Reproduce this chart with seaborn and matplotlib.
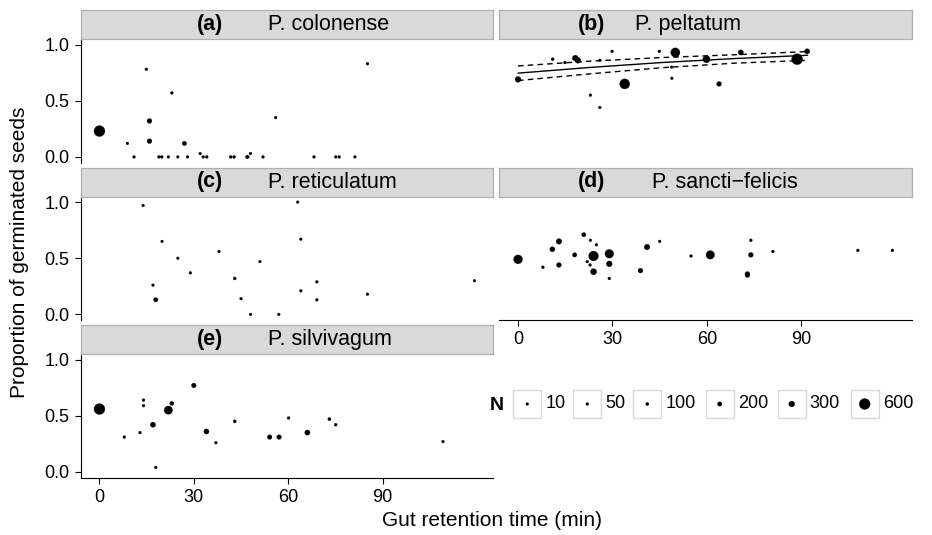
import numpy as np
import pandas as pd
import matplotlib
matplotlib.use("Agg")
import matplotlib.pyplot as plt
import seaborn as sns
from matplotlib.colors import PowerNorm
from matplotlib.patches import Rectangle

sns.set_style("ticks")
plt.rcParams['font.family'] = ['Liberation Sans', 'DejaVu Sans']
plt.rcParams.update({'text.color': 'black', 'axes.labelcolor': 'black',
                     'xtick.color': 'black', 'ytick.color': 'black'})

# ---- data ----
species = ["P. colonense", "P. peltatum", "P. reticulatum", "P. sancti\u2212felicis", "P. silvivagum"]
letters = ["(a)", "(b)", "(c)", "(d)", "(e)"]

colonense_time = [0, 8.9, 11.0, 14.9, 15.9, 15.9, 18.9, 19.8, 21.9, 23.0, 24.9, 27.0, 28.0, 32.0,
                  33.0, 34.1, 41.7, 42.8, 47.0, 48.0, 52.0, 56.0, 68.2, 75.1, 76.2, 81.2, 85.2]
colonense_prop = [0.23, 0.12, 0.0, 0.78, 0.32, 0.14, 0.0, 0.0, 0.0, 0.57, 0.0, 0.12, 0.0, 0.03,
                  0.0, 0.0, 0.0, 0.0, 0.0, 0.03, 0.0, 0.35, 0.0, 0.0, 0.0, 0.0, 0.83]
colonense_n = [680, 40, 50, 40, 230, 230, 60, 60, 20, 60, 20, 200, 40, 40,
               60, 60, 80, 80, 150, 40, 40, 40, 50, 40, 40, 20, 50]

peltatum_time = [0, 11.0, 14.9, 18.2, 19.0, 23.0, 26.0, 26.0, 29.9, 33.9, 44.9, 48.8, 48.9, 50.0,
                 59.9, 63.9, 70.8, 88.7, 91.9]
peltatum_prop = [0.69, 0.87, 0.84, 0.88, 0.86, 0.55, 0.86, 0.44, 0.94, 0.65, 0.94, 0.80, 0.70, 0.93,
                 0.87, 0.65, 0.93, 0.87, 0.94]
peltatum_n = [300, 80, 60, 300, 300, 50, 60, 40, 50, 550, 40, 40, 40, 500,
              380, 230, 260, 610, 260]

reticulatum_time = [13.9, 17.0, 17.9, 19.9, 24.9, 28.9, 38.0, 43.0, 45.0, 48.0, 51.0, 57.0, 63.0,
                    64.0, 64.0, 69.1, 69.1, 85.2, 119.2]
reticulatum_prop = [0.97, 0.26, 0.13, 0.65, 0.50, 0.37, 0.56, 0.32, 0.14, 0.0, 0.47, 0.0, 1.0,
                    0.67, 0.21, 0.29, 0.13, 0.18, 0.30]
reticulatum_n = [20, 30, 200, 20, 20, 50, 20, 90, 40, 20, 20, 20, 20,
                 20, 40, 50, 50, 30, 30]

felicis_time = [0, 7.9, 10.9, 13.0, 13.0, 18.0, 20.9, 23.0, 22.0, 22.9, 24.0, 24.0, 24.9, 29.0,
                29.0, 29.0, 38.9, 41.0, 45.0, 55.0, 61.1, 72.9, 72.9, 74.0, 74.0, 81.0, 108.0, 119.0]
felicis_prop = [0.49, 0.42, 0.58, 0.65, 0.44, 0.53, 0.71, 0.66, 0.47, 0.44, 0.52, 0.38, 0.62, 0.54,
                0.45, 0.32, 0.39, 0.60, 0.65, 0.52, 0.53, 0.36, 0.35, 0.66, 0.53, 0.56, 0.57, 0.57]
felicis_n = [480, 60, 250, 280, 230, 200, 190, 30, 40, 60, 530, 320, 60, 470,
             300, 60, 230, 280, 40, 50, 460, 230, 230, 60, 230, 50, 50, 50]

silvivagum_time = [0, 7.9, 12.9, 14.0, 14.0, 17.0, 17.9, 21.9, 23.0, 30.0, 34.0, 37.0, 43.0, 54.1,
                   57.1, 60.1, 66.1, 73.1, 75.1, 109.2]
silvivagum_prop = [0.56, 0.31, 0.35, 0.64, 0.59, 0.42, 0.04, 0.55, 0.61, 0.77, 0.36, 0.26, 0.45, 0.31,
                   0.31, 0.48, 0.35, 0.47, 0.42, 0.27]
silvivagum_n = [800, 50, 50, 50, 50, 260, 30, 450, 180, 220, 260, 50, 100, 220,
                220, 50, 260, 100, 70, 60]

# fitted curve and confidence band for P. peltatum
fit_time = [0, 23, 46, 69, 92]
fit_mid = [0.746, 0.797, 0.841, 0.876, 0.905]
fit_lo = [0.68, 0.74, 0.795, 0.835, 0.86]
fit_hi = [0.81, 0.853, 0.885, 0.91, 0.938]

n_breaks = [10, 50, 100, 200, 300, 600]

frames = []
for sp, t, p, n in zip(species,
                       [colonense_time, peltatum_time, reticulatum_time, felicis_time, silvivagum_time],
                       [colonense_prop, peltatum_prop, reticulatum_prop, felicis_prop, silvivagum_prop],
                       [colonense_n, peltatum_n, reticulatum_n, felicis_n, silvivagum_n]):
    frames.append(pd.DataFrame({"species": sp, "time": t, "prop": p, "N": n}))
df = pd.concat(frames, ignore_index=True)

# ---- layout (pixels) ----
W, H = 932, 535
col_left = [80.7, 499.3]
col_w = 412.5
row_top = [10, 167.5, 325]
strip_h = 29
panel_h = 123.5
cells = [(0, 0), (1, 0), (0, 1), (1, 1), (0, 2)]
# strip text anchors (fraction of strip width): end of letter, start of name
text_pos = [(0.345, 0.453), (0.256, 0.329), (0.345, 0.453), (0.256, 0.370), (0.345, 0.453)]


def box(left, top, w, h):
    return [left / W, 1 - (top + h) / H, w / W, h / H]


size_norm = PowerNorm(gamma=2, vmin=10, vmax=600)
size_range = (4, 62)
xmax = df["time"].max()
pad = 0.05 * xmax

fig = plt.figure(figsize=(W / 100, H / 100), dpi=100)

for i, sp in enumerate(species):
    c, r = cells[i]
    ax = fig.add_axes(box(col_left[c], row_top[r] + strip_h, col_w, panel_h))
    sub = df[df["species"] == sp]
    sns.scatterplot(data=sub, x="time", y="prop", size="N", sizes=size_range,
                    size_norm=size_norm, color="black", edgecolor="black", linewidth=0.2,
                    legend=False, ax=ax)
    if i == 1:
        sns.lineplot(x=fit_time, y=fit_mid, color="black", lw=1.0, ax=ax)
        for band in (fit_lo, fit_hi):
            sns.lineplot(x=fit_time, y=band, color="black", lw=1.0, ax=ax,
                         linestyle=(0, (4, 3)))
    ax.set_xlim(-pad, xmax + pad)
    ax.set_ylim(-0.05, 1.05)
    ax.set_xticks([0, 30, 60, 90])
    ax.set_yticks([0, 0.5, 1.0])
    ax.set_yticklabels(["0.0", "0.5", "1.0"])
    ax.set_xlabel("")
    ax.set_ylabel("")
    ax.tick_params(labelsize=13, length=4, width=0.8, pad=4, colors="black")
    for s in ("top", "right"):
        ax.spines[s].set_visible(False)
    left_on = c == 0
    bottom_on = i in (3, 4)
    ax.spines["left"].set_visible(left_on)
    ax.spines["bottom"].set_visible(bottom_on)
    ax.spines["left"].set_linewidth(0.8)
    ax.spines["bottom"].set_linewidth(0.8)
    ax.spines["left"].set_color("black")
    ax.spines["bottom"].set_color("black")
    ax.tick_params(left=left_on, labelleft=left_on, bottom=bottom_on, labelbottom=bottom_on)

    sax = fig.add_axes(box(col_left[c], row_top[r], col_w, strip_h))
    sax.set_facecolor("#D9D9D9")
    sax.set_xticks([])
    sax.set_yticks([])
    for s in sax.spines.values():
        s.set_color("#B0B0B0")
        s.set_linewidth(0.9)
    a, b = text_pos[i]
    sax.text(a, 0.5, letters[i], ha="right", va="center", fontsize=15.5,
             fontweight="bold", transform=sax.transAxes)
    sax.text(b, 0.5, sp, ha="left", va="center", fontsize=15.5, transform=sax.transAxes)

fig.text(20 / W, 1 - 252 / H, "Proportion of germinated seeds", rotation=90,
         ha="center", va="center", fontsize=15)
fig.text(492 / W, 1 - 521 / H, "Gut retention time (min)", ha="center", va="center", fontsize=15)

# ---- size legend ----
lax = fig.add_axes([0, 0, 1, 1])
key_left = [513.3, 573.3, 633.3, 705.7, 777.7, 850.7]
key_w = 28
key_top = 390
lax.text(497, 405, "N", ha="center", va="center", fontsize=14, fontweight="bold")
for kx, nb in zip(key_left, n_breaks):
    lax.add_patch(Rectangle((kx, key_top), key_w, key_w, facecolor="white",
                            edgecolor="#D9D9D9", lw=1))
    lax.text(kx + key_w + 4, key_top + key_w / 2, str(nb), ha="left", va="center", fontsize=13)
sns.scatterplot(x=[kx + key_w / 2 for kx in key_left], y=[key_top + key_w / 2] * len(n_breaks),
                size=n_breaks, sizes=size_range, size_norm=size_norm, color="black",
                edgecolor="black", linewidth=0.2, legend=False, ax=lax)
lax.set_xlim(0, W)
lax.set_ylim(H, 0)
lax.axis("off")

fig.savefig("out.png", dpi=100)
